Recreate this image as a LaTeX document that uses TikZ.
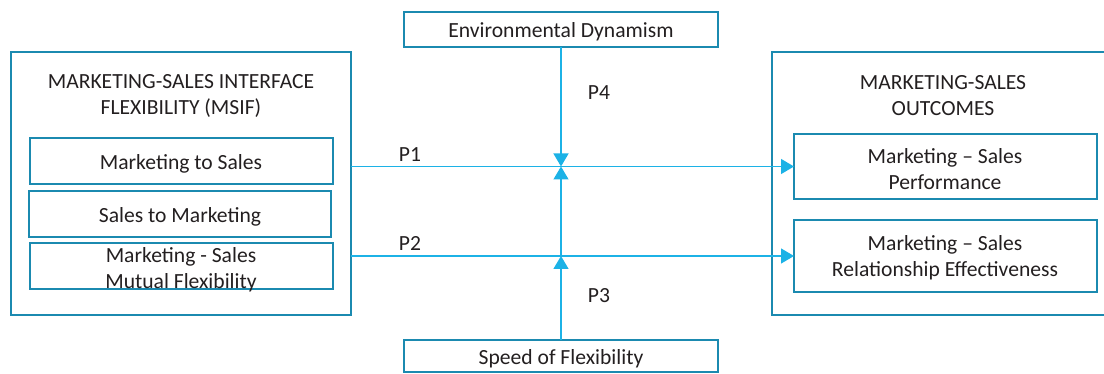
\documentclass[tikz,border=0pt]{standalone}
\usepackage{fontspec}
\setmainfont{Carlito}
\usetikzlibrary{arrows.meta}
\definecolor{boxc}{HTML}{1B8AB0}
\definecolor{linec}{HTML}{1CB2E6}
\definecolor{txt}{HTML}{231F20}
\begin{document}
\begin{tikzpicture}[x=1pt,y=-1pt,
  frame/.style={draw=boxc, line width=2.3pt, rectangle, anchor=north west, inner sep=0pt, outer sep=0pt},
  conn/.style={draw=linec, line width=1.4pt},
  tip/.style={-{Triangle[width=15pt,length=13pt]}},
  lbl/.style={font=\fontsize{21.6}{26}\selectfont, text=txt, align=center}]
\useasboundingbox (0,0) rectangle (1104,374);
% outer frames
\node[frame, minimum width=340pt, minimum height=263pt] (L) at (11,52) {};
\node[frame, minimum width=350pt, minimum height=263pt] (R) at (772,52) {};
% left inner boxes
\node[frame, minimum width=303pt, minimum height=46pt] (MS) at (30,138) {};
\node[frame, minimum width=302pt, minimum height=46pt] (SM) at (29,191) {};
\node[frame, minimum width=303pt, minimum height=46pt] (MU) at (30,243) {};
% right inner boxes
\node[frame, minimum width=303pt, minimum height=65pt] (PF) at (794,134) {};
\node[frame, minimum width=303pt, minimum height=72pt] (RE) at (794,220) {};
% top and bottom
\node[frame, minimum width=314pt, minimum height=35pt] (ENV) at (404,12) {};
\node[frame, minimum width=314pt, minimum height=32pt] (SP) at (404,340) {};
% texts
\node[lbl] (Lt) at (181,95.5) {MARKETING-SALES INTERFACE\\FLEXIBILITY (MSIF)};
\node[lbl] (Rt) at (943,95.5) {MARKETING-SALES\\OUTCOMES};
\node[lbl] (MSt) at (181,163.5) {Marketing to Sales};
\node[lbl] (SMt) at (180,216.5) {Sales to Marketing};
\node[lbl] (MUt) at (181,269.5) {Marketing - Sales\\Mutual Flexibility};
\node[lbl] (PFt) at (945,169.5) {Marketing -- Sales\\Performance};
\node[lbl] (REt) at (945,257.5) {Marketing -- Sales\\Relationship Effectiveness};
\node[lbl] (ENVt) at (561,31.5) {Environmental Dynamism};
\node[lbl] (SPt) at (561,358.5) {Speed of Flexibility};
\node[lbl] (P4) at (599,92.5) {P4};
\node[lbl] (P1) at (410,154.5) {P1};
\node[lbl] (P2) at (410,243.5) {P2};
\node[lbl] (P3) at (599,295.5) {P3};
% connectors
\coordinate (c1) at (L.east |- PF.west);
\coordinate (c2) at (L.east |- RE.west);
\coordinate (v1) at (ENV.south |- PF.west);
\coordinate (v2) at (ENV.south |- RE.west);
\draw[conn, tip] (c1) -- (PF.west);
\draw[conn, tip] (c2) -- (RE.west);
\draw[conn, tip] (ENV.south) -- (v1);
\draw[conn, tip] (SP.north) -- (v2);
\draw[conn, tip] (v2) -- (v1);
\end{tikzpicture}
\end{document}
